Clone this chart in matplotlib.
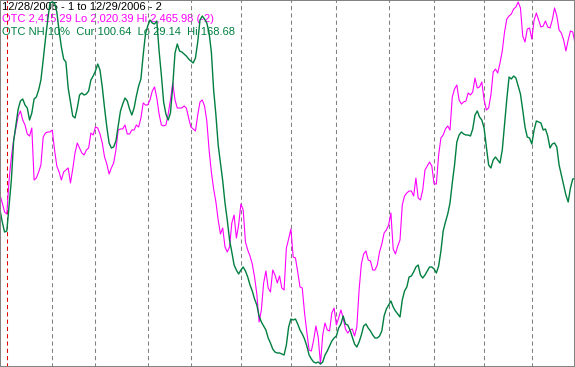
import matplotlib
matplotlib.use('Agg')

import numpy as np
import pandas as pd
import matplotlib.pyplot as plt

# trading days 12/28/2005 .. 12/29/2006
holidays = ['2006-01-02', '2006-01-16', '2006-02-20', '2006-04-14', '2006-05-29',
            '2006-07-04', '2006-09-04', '2006-11-23', '2006-12-25']

# OTC (Nasdaq composite) closes
otc = [2228.4, 2218.6, 2207.5, 2205.0, 2246.9, 2275.2, 2296.1, 2310.9, 2325.7, 2331.8,
       2320.7, 2314.6, 2303.5, 2301.0, 2310.9, 2246.9, 2249.3, 2256.7, 2265.3, 2299.8,
       2304.7, 2306.0, 2306.0, 2308.4, 2283.8, 2264.1, 2256.7, 2246.9, 2256.7, 2259.2,
       2261.7, 2243.2, 2260.4, 2280.1, 2292.4, 2286.3, 2280.1, 2277.7, 2283.8, 2286.3,
       2304.7, 2302.3, 2312.1, 2310.9, 2303.5, 2292.4, 2275.2, 2266.6, 2254.3, 2261.7,
       2267.8, 2283.8, 2308.4, 2309.7, 2309.7, 2314.6, 2303.5, 2303.5, 2308.4, 2308.4,
       2314.6, 2312.1, 2323.2, 2341.7, 2339.2, 2339.2, 2345.4, 2356.4, 2361.4, 2347.8,
       2328.1, 2314.6, 2313.4, 2314.6, 2328.1, 2345.4, 2366.3, 2345.4, 2335.5, 2335.5,
       2335.5, 2338.0, 2335.5, 2323.2, 2312.1, 2309.7, 2307.2, 2326.9, 2342.9, 2345.4,
       2338.0, 2319.5, 2283.8, 2256.7, 2235.8, 2219.8, 2197.6, 2180.4, 2187.8, 2164.4,
       2158.3, 2164.4, 2194.0, 2203.8, 2175.5, 2191.5, 2217.3, 2210.0, 2170.6, 2160.7,
       2153.3, 2143.5, 2127.5, 2106.6, 2072.1, 2086.9, 2120.1, 2134.9, 2113.9, 2109.0,
       2136.1, 2129.9, 2120.1, 2128.7, 2113.9, 2111.5, 2163.2, 2174.3, 2186.6, 2152.1,
       2150.9, 2133.6, 2115.2, 2113.9, 2083.2, 2059.8, 2037.6, 2036.4, 2049.9, 2067.2,
       2053.6, 2020.39, 2056.1, 2070.9, 2062.2, 2061.0, 2083.2, 2089.3, 2068.4, 2077.0,
       2086.9, 2077.0, 2063.5, 2058.5, 2062.2, 2063.5, 2054.9, 2065.9, 2111.5, 2143.5,
       2155.8, 2159.5, 2148.4, 2147.2, 2136.1, 2136.1, 2142.3, 2158.3, 2168.1, 2181.6,
       2185.3, 2191.5, 2206.3, 2162.0, 2155.8, 2165.6, 2173.0, 2216.1, 2227.2, 2230.9,
       2233.3, 2233.3, 2227.2, 2249.3, 2224.7, 2222.3, 2234.6, 2259.2, 2264.1, 2269.0,
       2264.1, 2242.0, 2242.0, 2277.7, 2298.6, 2302.3, 2309.7, 2313.4, 2308.4, 2349.0,
       2358.9, 2363.8, 2345.4, 2340.4, 2342.9, 2344.1, 2354.0, 2351.5, 2355.2, 2372.4,
       2360.1, 2361.4, 2367.5, 2345.4, 2333.0, 2335.5, 2351.5, 2379.8, 2383.5, 2378.6,
       2390.9, 2405.7, 2429.1, 2445.1, 2448.8, 2451.2, 2457.4, 2459.8, 2465.98, 2458.6,
       2424.1, 2416.7, 2432.7, 2434.0, 2420.4, 2443.8, 2452.4, 2443.8, 2435.2, 2436.4,
       2442.6, 2435.2, 2434.0, 2443.8, 2458.6, 2448.8, 2431.5, 2427.8, 2419.2, 2405.7,
       2419.2, 2430.3, 2429.1, 2415.29]

# OTC new highs 10-day
nh = [88.50, 83.88, 80.02, 80.41, 90.43, 100.07, 115.10, 121.27, 127.43, 130.52,
      131.29, 128.98, 127.82, 123.19, 125.89, 131.29, 132.06, 134.76, 138.61, 146.32,
      154.42, 161.74, 168.29, 168.68, 168.29, 164.82, 157.50, 151.33, 146.71, 145.55,
      135.53, 130.13, 124.74, 123.96, 127.82, 132.83, 133.60, 132.83, 133.22, 134.37,
      138.61, 140.15, 142.08, 144.78, 142.47, 135.91, 127.82, 120.50, 114.33, 112.40,
      112.79, 115.10, 120.88, 126.66, 129.36, 131.67, 130.52, 127.43, 125.12, 127.82,
      132.44, 136.30, 139.00, 148.25, 156.34, 159.43, 161.74, 160.58, 160.20, 161.36,
      149.79, 140.54, 130.13, 125.51, 123.19, 125.89, 136.30, 149.02, 152.49, 149.79,
      149.41, 148.63, 147.86, 146.71, 145.94, 145.17, 147.09, 153.26, 161.74, 163.28,
      162.13, 160.58, 156.73, 149.41, 134.76, 125.12, 113.56, 106.62, 99.68, 91.20,
      84.65, 76.94, 72.31, 67.30, 65.37, 63.83, 65.37, 66.53, 64.99, 62.67,
      59.59, 57.28, 54.19, 51.88, 47.64, 45.33, 43.79, 42.24, 39.16, 37.23,
      34.92, 33.76, 33.38, 33.38, 32.99, 32.61, 36.46, 43.40, 46.48, 46.10,
      46.48, 44.56, 42.24, 40.70, 38.78, 36.08, 32.61, 31.07, 29.91, 29.52,
      29.91, 29.14, 29.91, 32.61, 34.15, 36.08, 38.00, 39.16, 39.93, 43.02,
      44.56, 47.64, 44.56, 44.17, 42.24, 39.55, 36.85, 35.69, 37.62, 40.32,
      43.79, 44.56, 43.02, 41.86, 40.32, 39.16, 39.16, 39.93, 41.86, 47.64,
      50.34, 51.88, 53.42, 51.11, 49.57, 48.41, 47.26, 53.81, 57.28, 58.82,
      62.67, 63.06, 64.60, 66.53, 67.30, 63.45, 62.29, 63.45, 64.99, 66.53,
      66.53, 65.76, 64.22, 66.91, 72.70, 80.41, 83.88, 86.96, 91.20, 98.91,
      105.85, 114.71, 117.41, 118.57, 117.80, 117.41, 117.41, 117.03, 119.72, 125.12,
      126.66, 124.35, 123.19, 120.11, 112.79, 105.85, 104.69, 107.77, 108.93, 107.77,
      106.62, 111.63, 121.27, 131.29, 139.77, 139.00, 140.15, 139.38, 136.30, 133.22,
      127.05, 120.50, 116.64, 116.26, 113.94, 119.34, 122.81, 122.42, 122.04, 119.34,
      119.72, 117.03, 112.40, 113.94, 114.33, 112.79, 105.85, 101.99, 98.14, 94.28,
      91.59, 96.98, 100.45, 100.64]

title_lines = ["12/28/2005 - 1 to 12/29/2006 - 2",
               "OTC 2,415.29 Lo 2,020.39 Hi 2,465.98 (-2)",
               "OTC NH 10%  Cur 100.64  Lo 29.14  Hi 168.68"]

MAGENTA = '#ff00ff'
GREEN = '#007f40'

dates = pd.bdate_range('2005-12-28', '2006-12-29').drop(pd.to_datetime(holidays))
x = np.arange(len(dates))

fig = plt.figure(figsize=(5.75, 3.67), dpi=100, facecolor='white')
ax = fig.add_axes([0, 0, 1, 1])
ax.set_facecolor('none')
ax2 = ax.twinx()
ax2.set_facecolor('none')

# month separators, red one at the year change
months = dates.month.values
for i in range(1, len(dates)):
    if months[i] != months[i - 1]:
        col = '#e00000' if dates[i].year != dates[i - 1].year else '#808080'
        ax.axvline(i, color=col, lw=0.75, ls=(0, (4, 3)), zorder=0.5)

ax.plot(x, otc, color=MAGENTA, lw=0.8, zorder=2)
ax2.plot(x, nh, color=GREEN, lw=1.0, zorder=2)

# each series scaled to its own lo/hi, filling the panel
for a, s in ((ax, otc), (ax2, nh)):
    lo, hi = min(s), max(s)
    px = (hi - lo) / 362.0
    a.set_ylim(lo - 3 * px, hi + 2 * px)
    a.set_yticks([])
    for sp in a.spines.values():
        sp.set_color('#808080')
        sp.set_linewidth(1.2)
ax.set_xlim(0, len(dates) - 1)
ax.set_xticks([])

fam = ['Liberation Sans', 'DejaVu Sans']
for txt, col, yb in zip(title_lines, ['black', MAGENTA, GREEN], [357.5, 344.5, 332.0]):
    fig.text(2 / 575, yb / 367, txt, color=col, fontsize=8, family=fam,
             va='baseline', ha='left', zorder=-1)

fig.savefig('out.png', dpi=100, facecolor='white')
